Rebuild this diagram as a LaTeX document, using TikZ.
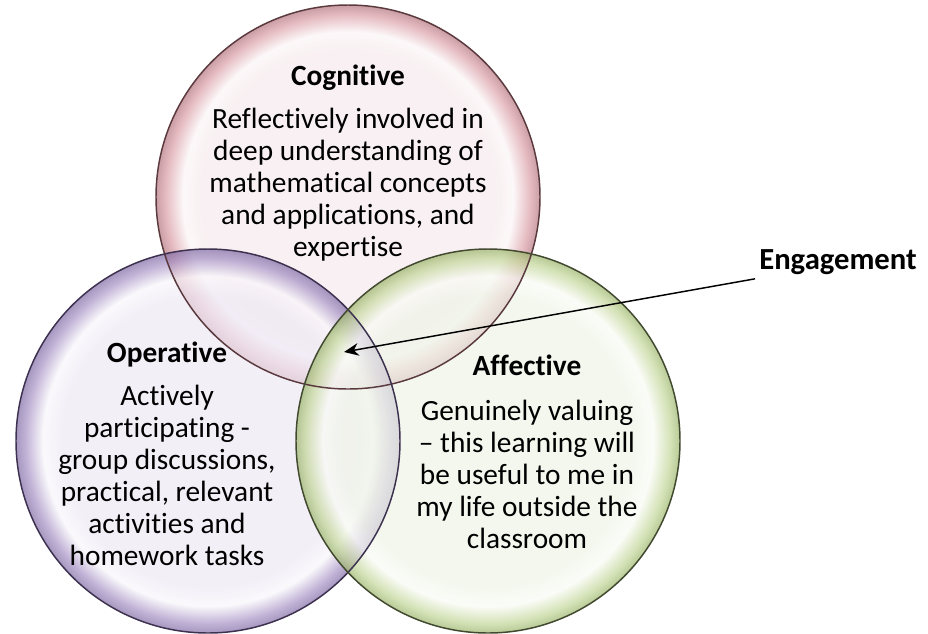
\documentclass[tikz,border=0pt]{standalone}
\usepackage{fontspec}
\setmainfont{Carlito}[Ligatures={TeX,NoCommon}]
\usetikzlibrary{arrows.meta,positioning}

\definecolor{coginner}{HTML}{F5E9EC}
\definecolor{coglight}{HTML}{FBF5F6}
\definecolor{cogrim}{HTML}{D99CA5}
\definecolor{cogdark}{HTML}{B3747E}
\definecolor{cogedge}{HTML}{5A3A3E}
\definecolor{operinner}{HTML}{EEE8F4}
\definecolor{operlight}{HTML}{F8F6FA}
\definecolor{operrim}{HTML}{A590C4}
\definecolor{operdark}{HTML}{806BA4}
\definecolor{operedge}{HTML}{3D3150}
\definecolor{affinner}{HTML}{EFF4E7}
\definecolor{afflight}{HTML}{F9FBF5}
\definecolor{affrim}{HTML}{C1D596}
\definecolor{affdark}{HTML}{9AB36A}
\definecolor{affedge}{HTML}{41492F}

\pgfdeclareradialshading{cogshade}{\pgfpoint{0bp}{0bp}}{color(0bp)=(coginner); color(19bp)=(coginner); color(21.5bp)=(coglight); color(23.8bp)=(cogrim); color(25bp)=(cogdark); color(50bp)=(cogdark)}
\pgfdeclareradialshading{opershade}{\pgfpoint{0bp}{0bp}}{color(0bp)=(operinner); color(19bp)=(operinner); color(21.5bp)=(operlight); color(23.8bp)=(operrim); color(25bp)=(operdark); color(50bp)=(operdark)}
\pgfdeclareradialshading{affshade}{\pgfpoint{0bp}{0bp}}{color(0bp)=(affinner); color(19bp)=(affinner); color(21.5bp)=(afflight); color(23.8bp)=(affrim); color(25bp)=(affdark); color(50bp)=(affdark)}

\tikzset{
  bubble/.style={circle, minimum size=288pt, inner sep=0pt, fill opacity=0.7},
  rim/.style={line width=1.1pt},
  blurb/.style={align=center, font=\fontsize{22}{24}\selectfont},
}

\begin{document}
\begin{tikzpicture}[x=0.75pt, y=-0.75pt, >={Stealth[length=11pt,width=9.5pt]},
  node distance=183pt and 105pt, on grid]
\useasboundingbox (0,0) rectangle (928,633);

% the three bubbles
\node[bubble, shading=cogshade] (cog) at (348,197) {};
\node[bubble, shading=opershade] (oper) [below left=of cog] {};
\node[bubble, shading=affshade] (aff) [below right=of cog] {};
\draw[rim, cogedge] (cog.center) circle[radius=144pt];
\draw[rim, operedge] (oper.center) circle[radius=144pt];
\draw[rim, affedge] (aff.center) circle[radius=144pt];

% texts
\node[blurb] (cogtext) at ([yshift=25.5pt]cog.center)
  {\textbf{Cognitive}\\[8pt] Reflectively involved in\\ deep understanding of\\
   mathematical concepts\\ and applications, and\\ expertise};
\node[blurb] (opertext) at ([xshift=-30.75pt,yshift=-9.4pt]oper.center)
  {\textbf{Operative}\\[8pt] Actively\\ participating -\\ group discussions,\\
   practical, relevant\\ activities and\\ homework tasks};
\node[blurb] (afftext) at ([xshift=29.25pt,yshift=-8pt]aff.center)
  {\textbf{Affective}\\[10pt] Genuinely valuing\\ – this learning will\\
   be useful to me in\\ my life outside the\\ classroom};

\node[font=\fontsize{23}{26}\selectfont\bfseries, inner sep=3pt] (eng) at (838,262) {Engagement};
\coordinate (core) at (344,352);
\draw[->, line width=1.1pt] (eng.south west) -- (core);
\end{tikzpicture}
\end{document}
